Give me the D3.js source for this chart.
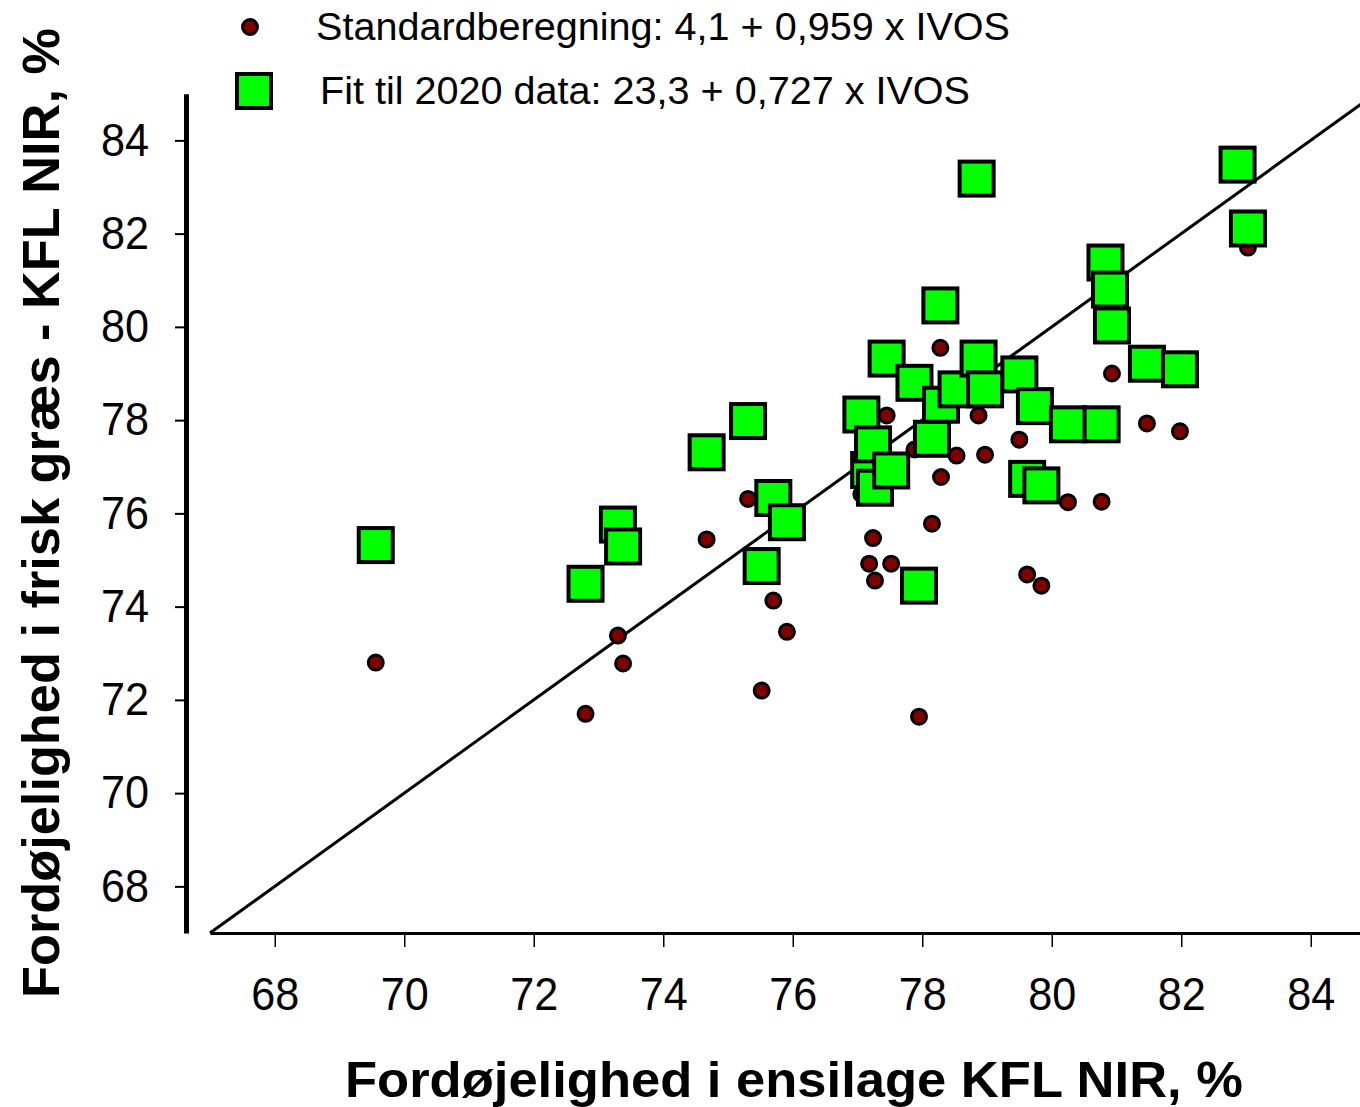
<!DOCTYPE html>
<html>
<head>
<meta charset="utf-8">
<script src="https://cdn.jsdelivr.net/npm/d3@7"></script>
<style>
  html, body { margin: 0; padding: 0; background: #fff; }
  svg { display: block; }
</style>
</head>
<body>
<svg id="chart" width="1360" height="1107"></svg>
<script>
// IVOS / silage digestibility (x)
const ivosX = [69.56, 72.80, 73.30, 73.38, 74.67, 75.31, 75.52, 75.70, 75.91, 77.06,
               77.18, 77.24, 77.27, 77.45, 77.52, 77.88, 77.95, 78.15, 78.28, 78.29,
               78.53, 78.84, 78.87, 78.97, 79.50, 79.62, 79.74, 79.84, 80.25, 80.77,
               80.83, 80.90, 80.93, 81.47, 81.98, 82.87, 83.03];
// Standardberegning (dark red circles)
const standardY = [72.80, 71.70, 73.38, 72.78, 75.44, 76.31, 72.20, 74.13, 73.46, 76.41,
                   74.92, 75.47, 74.56, 78.10, 74.92, 77.37, 71.64, 75.78, 79.55, 76.78,
                   77.24, 83.10, 78.10, 77.26, 77.58, 74.69, 76.64, 74.45, 76.24, 76.25,
                   80.72, 79.95, 79.00, 77.93, 77.76, 83.50, 81.70];
// Fit til 2020 data (green squares)
const fitY = [75.32, 74.49, 75.76, 75.29, 77.31, 77.98, 74.87, 76.33, 75.81, 78.12,
              76.93, 77.48, 76.55, 79.32, 76.92, 78.80, 74.45, 77.60, 80.46, 78.33,
              78.66, 83.18, 79.32, 78.66, 78.98, 76.74, 78.30, 76.60, 77.91, 77.91,
              81.38, 80.80, 80.03, 79.21, 79.09, 83.48, 82.11];
const xTicks = [68, 70, 72, 74, 76, 78, 80, 82, 84];
const yTicks = [68, 70, 72, 74, 76, 78, 80, 82, 84];
const legendLabels = ["Standardberegning: 4,1 + 0,959 x IVOS",
                      "Fit til 2020 data: 23,3 + 0,727 x IVOS"];
const xTitle = "Fordøjelighed i ensilage KFL NIR, %";
const yTitle = "Fordøjelighed i frisk græs - KFL NIR, %";

const svg = d3.select("#chart");
const font = "Arial, 'Liberation Sans', sans-serif";

const x = d3.scaleLinear().domain([67, 85]).range([210, 1375.5]);
const y = d3.scaleLinear().domain([67, 85]).range([933, 93.75]);

// 1:1 line
svg.append("line")
  .attr("x1", x(67)).attr("y1", y(67))
  .attr("x2", x(85)).attr("y2", y(85))
  .attr("stroke", "#000").attr("stroke-width", 3);

// X axis
const xAxis = svg.append("g")
  .attr("transform", `translate(0,${y(67)})`)
  .call(d3.axisBottom(x).tickValues(xTicks).tickSize(14).tickSizeOuter(0).tickPadding(30)
        .tickFormat(d3.format("d")));
xAxis.select(".domain").attr("stroke", "#000").attr("stroke-width", 3);
xAxis.selectAll(".tick line").attr("stroke", "#000").attr("stroke-width", 1.5);
xAxis.selectAll(".tick text").attr("font-family", font).attr("font-size", 46).attr("fill", "#000")
  .attr("textLength", 48).attr("lengthAdjust", "spacingAndGlyphs");

// Y axis
const yAxis = svg.append("g")
  .attr("transform", `translate(186,0)`)
  .call(d3.axisLeft(y).tickValues(yTicks).tickSize(11).tickSizeOuter(0).tickPadding(26)
        .tickFormat(d3.format("d")));
yAxis.select(".domain").attr("stroke", "#000").attr("stroke-width", 5);
yAxis.selectAll(".tick line").attr("stroke", "#000").attr("stroke-width", 2);
yAxis.selectAll(".tick text").attr("font-family", font).attr("font-size", 46).attr("fill", "#000")
  .attr("textLength", 48).attr("lengthAdjust", "spacingAndGlyphs");

// Circles
const cr = 7.5;
svg.append("g").selectAll("circle")
  .data(ivosX.map((v, i) => [v, standardY[i]]))
  .join("circle")
  .attr("cx", d => x(d[0])).attr("cy", d => y(d[1]))
  .attr("r", cr).attr("fill", "#800000").attr("stroke", "#000").attr("stroke-width", 3);

// Squares
const sq = 34;
svg.append("g").selectAll("rect")
  .data(ivosX.map((v, i) => [v, fitY[i]]))
  .join("rect")
  .attr("x", d => x(d[0]) - sq / 2).attr("y", d => y(d[1]) - sq / 2)
  .attr("width", sq).attr("height", sq)
  .attr("fill", "#00ff00").attr("stroke", "#000").attr("stroke-width", 4);

// Legend
svg.append("circle").attr("cx", 250).attr("cy", 27).attr("r", cr)
  .attr("fill", "#800000").attr("stroke", "#000").attr("stroke-width", 3);
svg.append("rect").attr("x", 254 - sq / 2).attr("y", 91 - sq / 2).attr("width", sq).attr("height", sq)
  .attr("fill", "#00ff00").attr("stroke", "#000").attr("stroke-width", 4);
svg.append("text").attr("x", 316).attr("y", 40).text(legendLabels[0])
  .attr("font-family", font).attr("font-size", 38)
  .attr("textLength", 694).attr("lengthAdjust", "spacingAndGlyphs");
svg.append("text").attr("x", 320).attr("y", 104).text(legendLabels[1])
  .attr("font-family", font).attr("font-size", 38)
  .attr("textLength", 650).attr("lengthAdjust", "spacingAndGlyphs");

// Axis titles
svg.append("text").attr("x", 345).attr("y", 1097).text(xTitle)
  .attr("font-family", font).attr("font-size", 50).attr("font-weight", "bold")
  .attr("textLength", 898).attr("lengthAdjust", "spacingAndGlyphs");
svg.append("text").attr("transform", "translate(59,998) rotate(-90)").text(yTitle)
  .attr("font-family", font).attr("font-size", 52).attr("font-weight", "bold")
  .attr("textLength", 970).attr("lengthAdjust", "spacingAndGlyphs");
</script>
</body>
</html>
